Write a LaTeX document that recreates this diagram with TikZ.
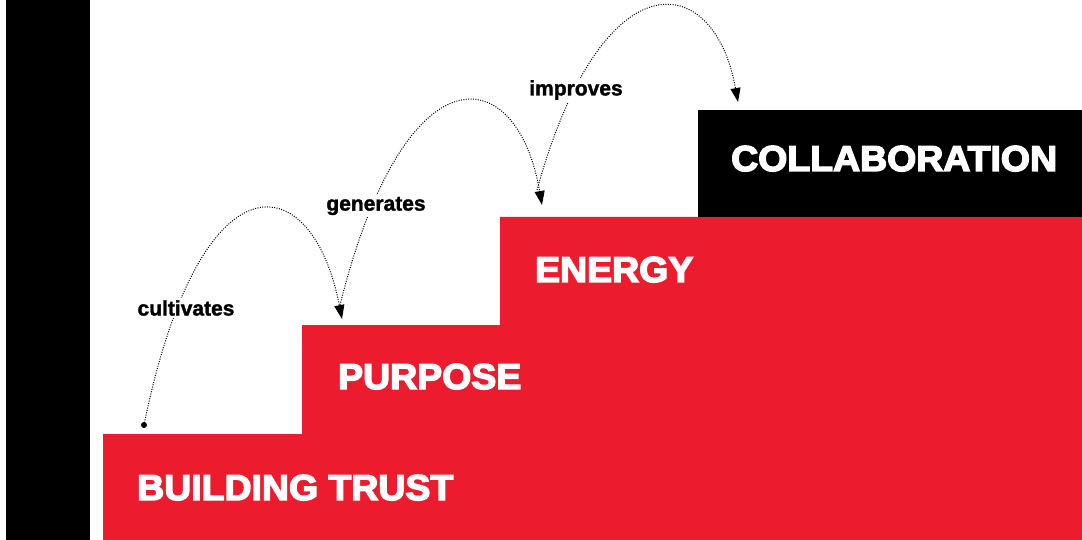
\documentclass[tikz,border=0pt]{standalone}
\usepackage{fontspec}
\setmainfont{Liberation Sans}
\newfontfamily\stepfont[FakeBold=4,FakeStretch=1.04]{Liberation Sans Bold}
\newfontfamily\verbfont[FakeBold=1.5]{Liberation Sans Bold}
\usetikzlibrary{arrows.meta}
\definecolor{stepred}{RGB}{236,28,46}
\begin{document}
\begin{tikzpicture}[x=1pt,y=-1pt,
  steplabel/.style={anchor=base west, text=white, inner sep=0pt,
    font=\stepfont\fontsize{36}{36}\selectfont},
  verb/.style={fill=white, inner sep=2pt, font=\verbfont\fontsize{21}{21}\selectfont},
  hop/.style={line width=1pt, dash pattern=on 1pt off 1.4pt,
    -{Triangle[length=14pt,width=10pt]}}]
\useasboundingbox (0,0) rectangle (1082,540);
% side bar
\fill[black] (6,0) rectangle (90,540);
% staircase
\fill[stepred] (103,540) |- (302,434) |- (500,325) |- (1082,217) -- (1082,540) -- cycle;
\fill[black] (698,110) rectangle (1082,217);
% step labels
\node[steplabel] (trust) at (137,500) {BUILDING TRUST};
\node[steplabel] (purpose) at (338,389) {PURPOSE};
\node[steplabel] (energy) at (535,282) {ENERGY};
\node[steplabel] (collab) at (731,171) {COLLABORATION};
% hop end points
\coordinate (s1) at (144,425);
\coordinate (e1) at (342,319);
\coordinate (s2) at (340,305);
\coordinate (e2) at (542,205);
\coordinate (s3) at (537,190);
\coordinate (e3) at (738,102);
\fill (s1) circle (3pt);
\draw[hop] (s1) .. controls (200,150) and (312,165) .. (e1);
\draw[hop] (s2) .. controls (405,45) and (517,60) .. (e2);
\draw[hop] (s3) .. controls (602,-45) and (714,-31) .. (e3);
% verbs on the hops
\node[verb] (cult) at (186,308) {cultivates};
\node[verb] (gen) at (376,206) {generates};
\node[verb] (imp) at (576,90) {improves};
\end{tikzpicture}
\end{document}
